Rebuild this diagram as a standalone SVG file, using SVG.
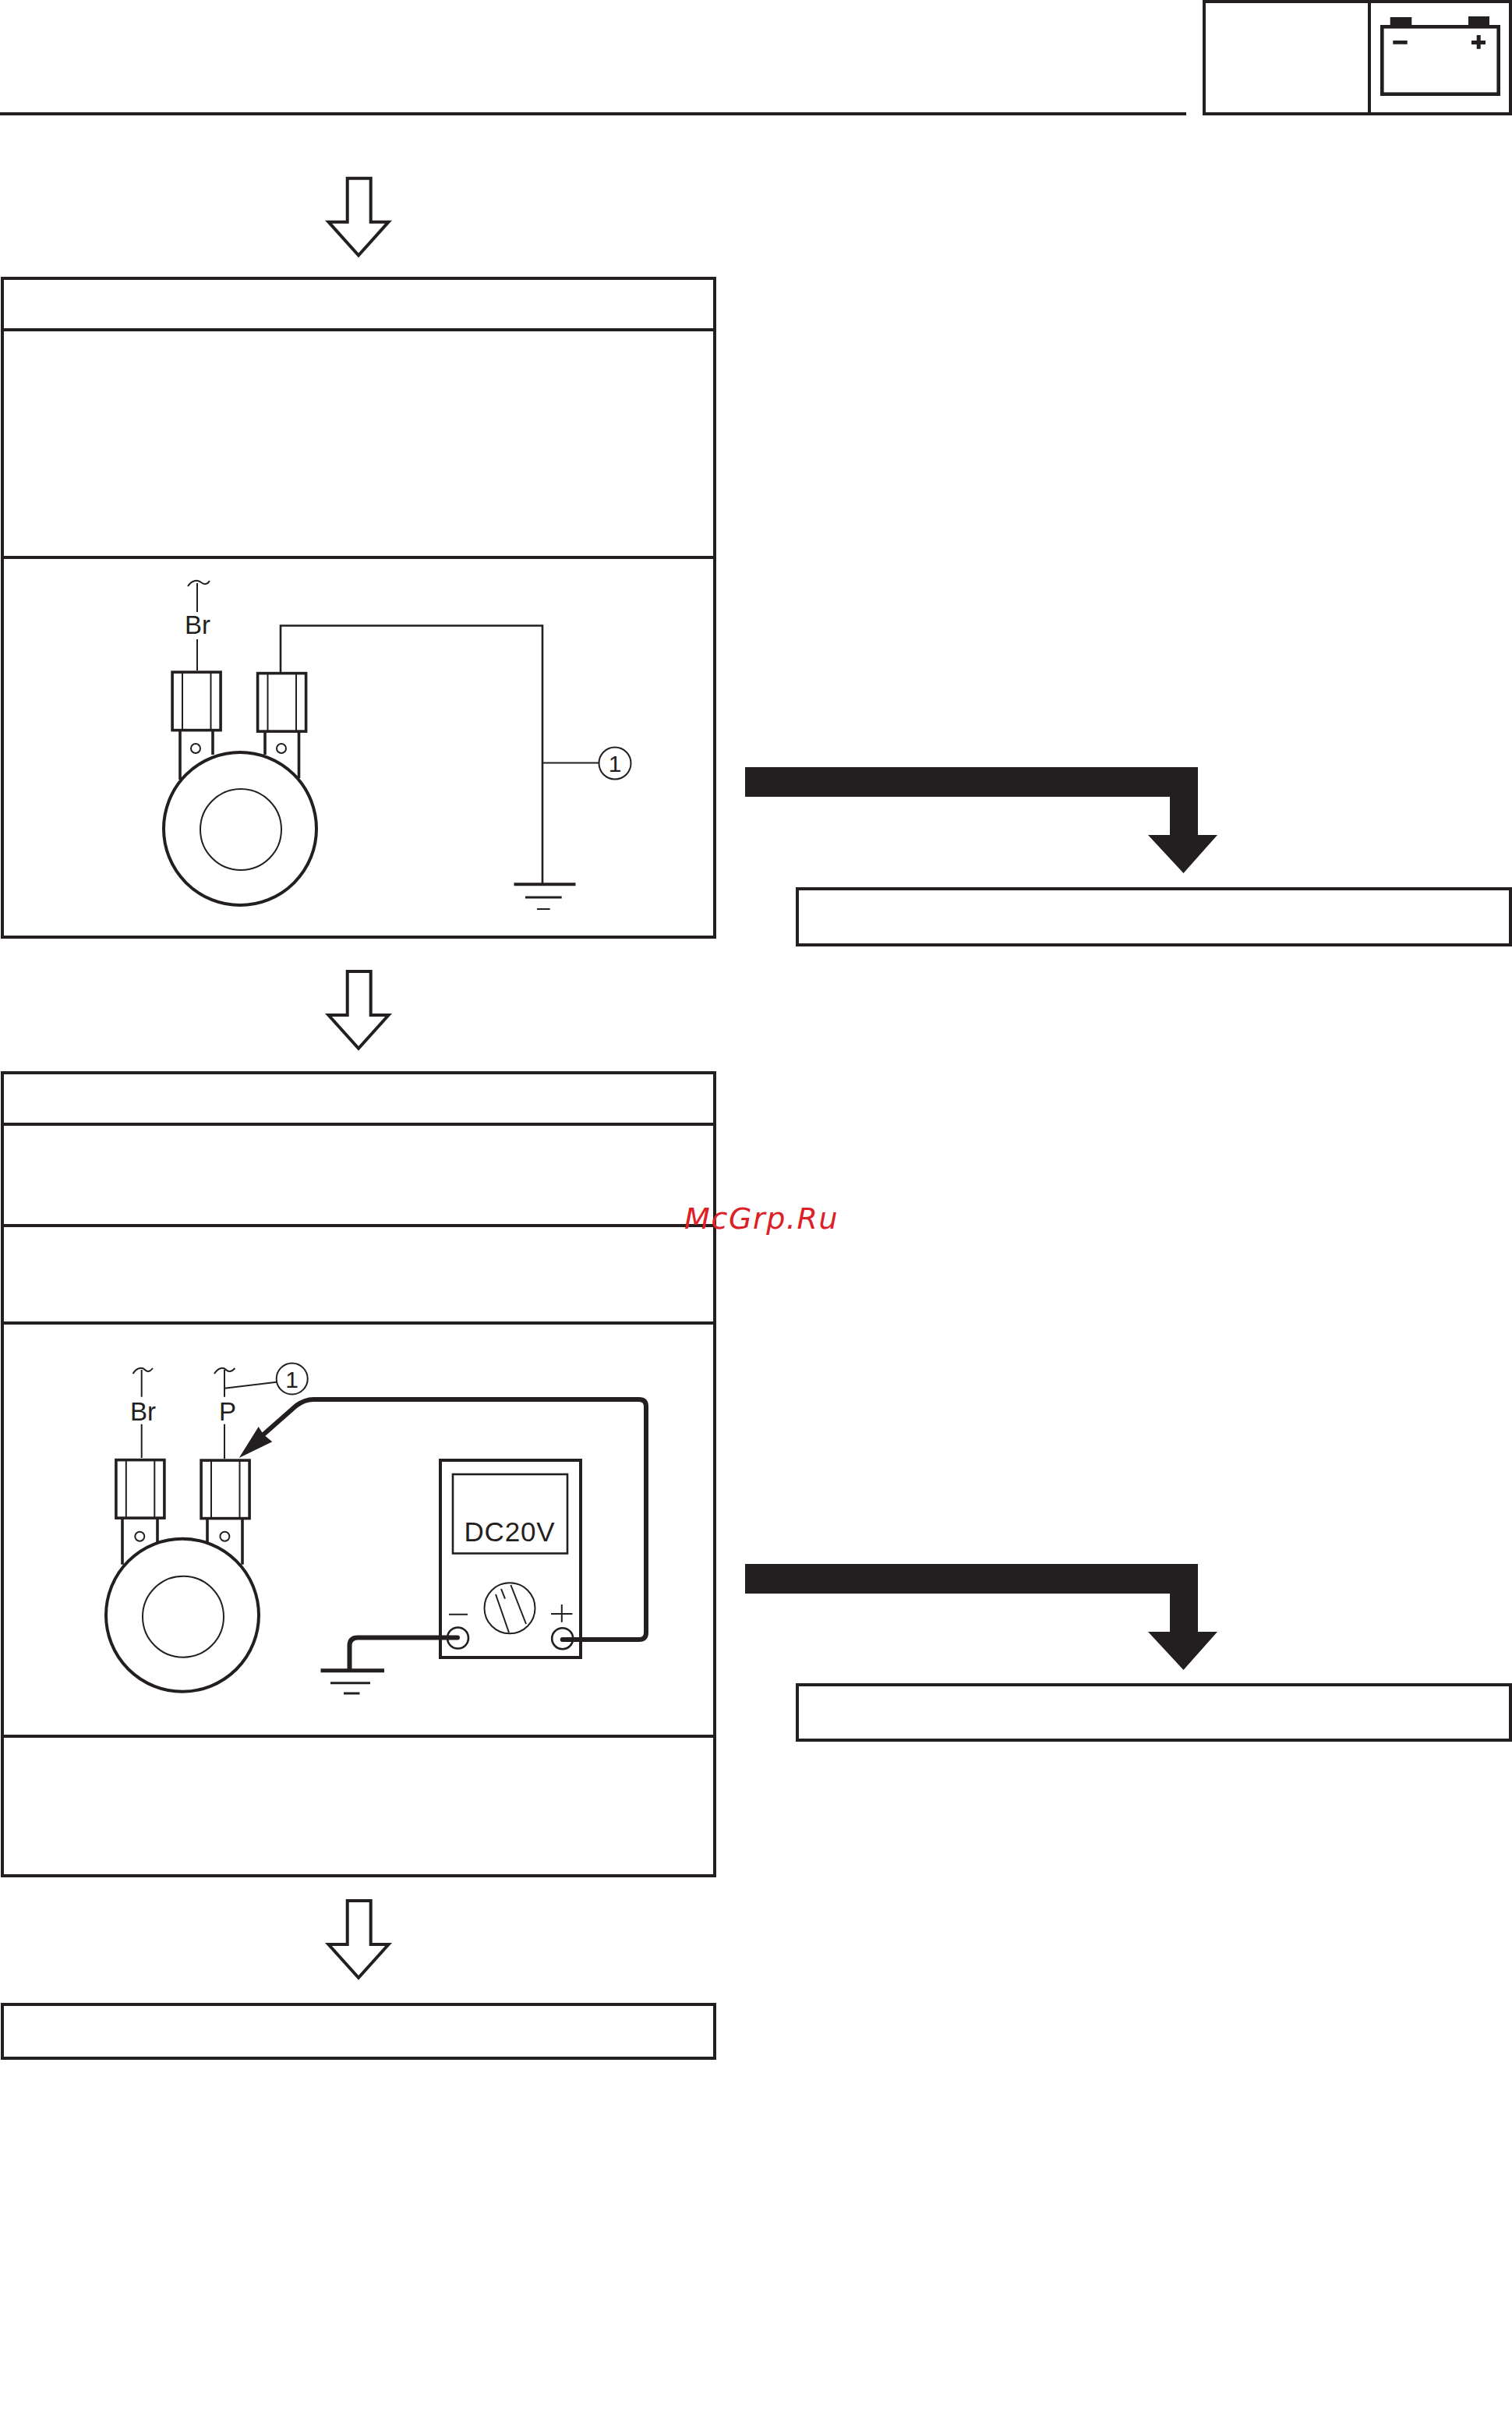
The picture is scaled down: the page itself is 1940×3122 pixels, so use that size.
<svg xmlns="http://www.w3.org/2000/svg" width="1940" height="3122" viewBox="0 0 1940 3122">
<style>
.b{fill:none;stroke:#231f20;stroke-width:4}
.m{fill:none;stroke:#231f20;stroke-width:3.6}
.t{fill:none;stroke:#231f20;stroke-width:2}
.k{fill:#231f20;stroke:none}
.w{fill:none;stroke:#231f20;stroke-width:2.6}
.h{fill:none;stroke:#231f20;stroke-width:6;stroke-linejoin:round;stroke-linecap:round}
.a{fill:#fff;stroke:#231f20;stroke-width:4;stroke-miterlimit:10}
.l{font-family:"Liberation Sans",Arial,sans-serif;fill:#231f20}
</style>
<defs>
<g id="plug">
<rect class="m" x="1.6" y="1.6" width="62" height="74.5"/>
<path class="t" d="M14.5 2V76M51 2V76"/>
</g>
<path id="thick" class="k" d="M956 984H1537V1071H1562L1518.5 1120L1473 1071H1501V1022H956Z"/>
<path id="hollow" class="a" d="M445.700 228.700H475.700V284.700H498.500L460 327.500L421.500 284.700H445.700Z"/>
</defs>
<rect width="1940" height="3122" fill="#fff"/>

<g id="header">
<path class="b" d="M0 146H1522"/>
<rect class="b" x="1545" y="2" width="393" height="144"/>
<path class="b" d="M1757 2V146"/>
<rect x="1773.300" y="34.300" width="149.400" height="86.400" fill="none" stroke="#231f20" stroke-width="4.600"/>
<path class="k" d="M1783.700 22H1811.300V33H1783.700ZM1884 21H1911V33H1884ZM1787.300 52H1805.700V56.700H1787.300ZM1888 52H1894.700V45H1899.700V52H1906V57H1899.700V62.700H1894.700V57H1888Z"/>
</g>

<g id="connectors">
<use href="#hollow"/>
<use href="#hollow" y="1017.300"/>
<use href="#hollow" y="2209.300"/>
<use href="#thick"/>
<use href="#thick" y="1022"/>
</g>

<g id="box-1">
<rect class="b" x="3" y="357" width="914" height="845"/>
<path class="b" d="M3 423H917M3 715H917"/>
</g>
<g id="box-1-result">
<rect class="b" x="1023" y="1140" width="915" height="72"/>
</g>
<g id="box-2">
<rect class="b" x="3" y="1376" width="914" height="1030"/>
<path class="b" d="M3 1442H917M3 1572H917M3 1697H917M3 2227H917"/>
</g>
<g id="box-2-result">
<rect class="b" x="1023" y="2161" width="915" height="71"/>
</g>
<g id="box-3">
<rect class="b" x="3" y="2571" width="914" height="69"/>
</g>

<g id="figure-1">
<path class="t" d="M241 752C247 743 254 744 258 747C262 750 266 750 269 745M253 748V785M253 820V860"/>
<text class="l" x="237" y="813" font-size="33">Br</text>
<use href="#plug" x="219.500" y="860.500"/>
<use href="#plug" x="329" y="862"/>
<path class="m" d="M231 938V1000M273 938V968M340 938V968M383.500 938V998"/>
<circle class="t" cx="251" cy="960" r="6"/>
<circle class="t" cx="361" cy="960" r="6"/>
<circle cx="308" cy="1063" r="98" fill="#fff" stroke="#231f20" stroke-width="4"/>
<circle class="t" cx="309" cy="1064" r="52"/>
<path class="w" d="M360 862V802.500H696V1134"/>
<path class="t" d="M696 978.500H768"/>
<circle class="t" cx="789" cy="979" r="20.500"/>
<text class="l" x="789" y="990" font-size="30" text-anchor="middle">1</text>
<path d="M659.500 1134.300H738.500" stroke="#231f20" stroke-width="4"/>
<path d="M674 1151H720.700" stroke="#231f20" stroke-width="3"/>
<path d="M689 1166H705.700" stroke="#231f20" stroke-width="2"/>
</g>

<g id="figure-2">
<path class="t" d="M170.600 1762C176 1753 183 1754 186 1757C189 1760 192 1760 196 1755M181.700 1757V1791.700M181.700 1826.700V1870"/>
<text class="l" x="167" y="1822" font-size="33">Br</text>
<path class="t" d="M275 1762C281 1753 287 1754 290 1757C293 1760 297 1760 301.500 1755M288 1757V1791.700M288 1826.700V1871M288 1780.700L355 1772.700"/>
<text class="l" x="281" y="1822" font-size="33">P</text>
<circle class="t" cx="374.700" cy="1768.500" r="20"/>
<text class="l" x="374.700" y="1779.500" font-size="30" text-anchor="middle">1</text>
<use href="#plug" x="147.300" y="1871"/>
<use href="#plug" x="256.500" y="1871.500"/>
<path class="m" d="M157 1948V2006.700M202 1948V1978M266 1948V1978M311 1948V2006.700"/>
<circle class="t" cx="179.300" cy="1970.700" r="6"/>
<circle class="t" cx="288.400" cy="1970.700" r="6"/>
<circle cx="234" cy="2071.700" r="98" fill="#fff" stroke="#231f20" stroke-width="4"/>
<circle class="t" cx="235" cy="2073.700" r="52"/>
<rect class="b" x="565" y="1873" width="180" height="253"/>
<rect class="w" x="581" y="1891" width="147" height="101.500"/>
<text class="l" x="595.500" y="1977" font-size="35" textLength="116">DC20V</text>
<circle class="t" cx="654" cy="2062.700" r="32.500"/>
<path class="t" d="M636 2045L653 2094M655.400 2033L675 2083M643 2038L648 2050.700"/>
<path class="t" d="M576 2070.700H600M707 2070H734.400M720.800 2058V2080.700"/>
<circle class="w" cx="587.500" cy="2101" r="13.500"/>
<circle class="w" cx="721.700" cy="2101.700" r="13.500"/>
<path class="h" d="M587 2100.500H459Q448.500 2100.500 448.500 2111V2142"/>
<path class="h" d="M721.700 2103H820Q829 2103 829 2094V1804Q829 1795 820 1795H402Q391 1795 380 1803L338 1840"/>
<path class="k" d="M306.700 1870L331.700 1830L338 1840L349.300 1849.300Z"/>
<path d="M411.500 2142.700H493" stroke="#231f20" stroke-width="5"/>
<path d="M424 2158.700H475" stroke="#231f20" stroke-width="3"/>
<path d="M441 2172H461.500" stroke="#231f20" stroke-width="3"/>
</g>

<text id="watermark" x="878" y="1576" font-family="'DejaVu Sans',sans-serif" font-style="italic" font-size="38" letter-spacing="1.6" fill="#dd2025">McGrp.Ru</text>
</svg>
